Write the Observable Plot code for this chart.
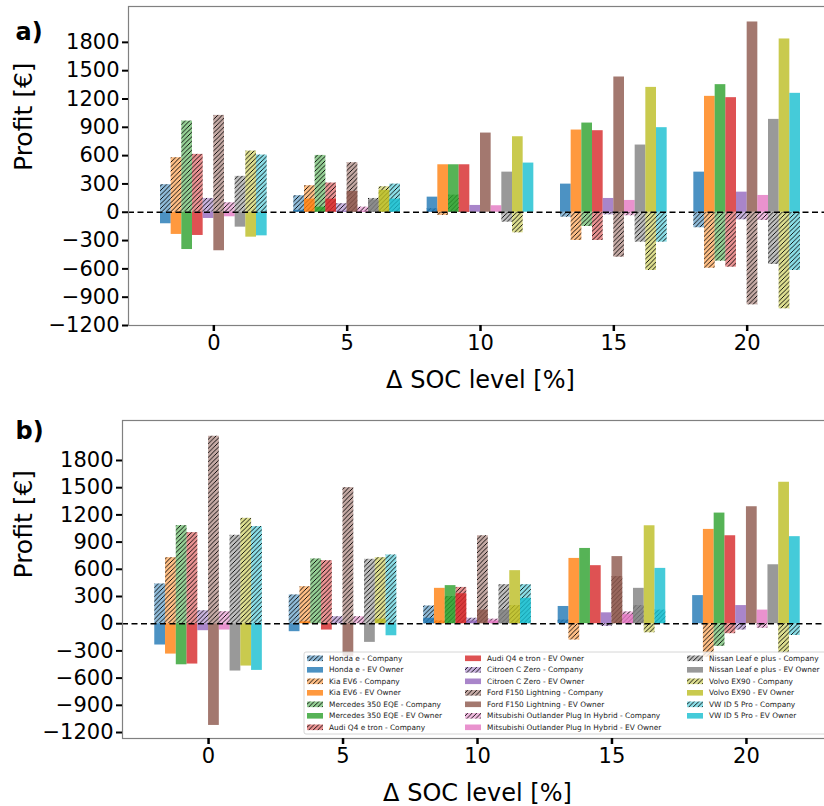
<!DOCTYPE html>
<html><head><meta charset="utf-8">
<script src="https://cdn.jsdelivr.net/npm/d3@7"></script>
<script src="https://cdn.jsdelivr.net/npm/@observablehq/plot@0.6"></script>
<style>
html,body{margin:0;padding:0;background:#fff;width:824px;height:806px;overflow:hidden;}
#chart{width:824px;overflow:hidden;}
#chart svg{display:block;max-width:none !important;}
</style></head><body>
<svg width="0" height="0" style="position:absolute">
<defs>
<pattern id="hatch" patternUnits="userSpaceOnUse" width="4.5" height="4.5">
<path d="M-1,1 l2,-2 M0,4.5 l4.5,-4.5 M3.5,5.5 l2,-2" stroke="#000" stroke-width="0.9"/>
</pattern>
</defs></svg>
<div id="chart"></div>
<script>
const vehicles = ["Honda e","Kia EV6","Mercedes 350 EQE","Audi Q4 e tron","Citroen C Zero","Ford F150 Lightning","Mitsubishi Outlander Plug In Hybrid","Nissan Leaf e plus","Volvo EX90","VW ID 5 Pro"];
const colors = ["#1f77b4","#ff7f0e","#2ca02c","#d62728","#9467bd","#8c564b","#e377c2","#7f7f7f","#bcbd22","#17becf"];
const roles = ["Company","EV Owner"];
const socLevels = [0,5,10,15,20];
const yTicks = [-1200,-900,-600,-300,0,300,600,900,1200,1500,1800];

// Panel a) values per SOC level (rows) and vehicle (columns)
const aCompany = [
  [292,578,966,613,146,1026,100,380,648,606],
  [175,281,602,309,90,525,54,146,270,298],
  [37,-34,181,5,0,0,0,-105,-218,0],
  [-52,-299,-151,-299,-27,-476,-37,-317,-617,-317],
  [-164,-593,-518,-582,-80,-981,-87,-553,-1023,-617]
];
const aOwner = [
  [-122,-235,-395,-246,-66,-408,-48,-158,-264,-250],
  [20,139,54,139,10,220,10,130,231,139],
  [160,503,503,503,72,839,69,425,800,521],
  [298,871,945,864,146,1433,125,712,1323,896],
  [425,1228,1352,1214,213,2016,178,984,1836,1260]
];
// Panel b)
const bCompany = [
  [438,728,1082,1004,143,2067,132,975,1162,1071],
  [317,408,714,695,77,1500,77,710,728,758],
  [195,30,300,400,60,970,50,430,200,430],
  [40,-180,0,0,-30,520,130,200,-100,150],
  [0,-370,-250,-110,-70,0,-50,0,-330,-130]
];
const bOwner = [
  [-235,-335,-453,-445,-77,-1122,-70,-522,-467,-515],
  [-88,20,0,-70,0,-360,0,-206,50,-133],
  [60,390,420,330,30,150,30,150,585,280],
  [190,720,830,640,120,740,100,390,1080,610],
  [310,1040,1220,970,200,1290,150,650,1560,960]
];

function rows(matrix, role){
  const out = [];
  socLevels.forEach((s,k) => vehicles.forEach((v,i) => out.push({soc:s, i, vehicle:v, role, value:matrix[k][i]})));
  return out;
}
const barW = 0.4;
const x1 = d => d.soc + (d.i - 5) * barW;
const x2 = d => d.soc + (d.i - 4) * barW;
const fmt = d3.format("d");

function panel(opts){
  const comp = rows(opts.company, "Company");
  const own = rows(opts.owner, "EV Owner");
  return Plot.plot({
    width: 840, height: opts.height,
    marginLeft: opts.ml, marginRight: 8, marginTop: opts.mt, marginBottom: opts.mb,
    style: {fontFamily: "DejaVu Sans", fontSize: "21px", color: "#000", background: "#fff", maxWidth: "none"},
    x: {domain: [-3.2, 23.2]},
    y: {domain: opts.ydomain},
    color: {type: "identity"},
    marks: [
      Plot.rectY(comp, {x1, x2, y1: 0, y2: "value", fill: d => colors[d.i], fillOpacity: 0.5}),
      Plot.rectY(comp, {x1, x2, y1: 0, y2: "value", fill: "url(#hatch)"}),
      Plot.rectY(own, {x1, x2, y1: 0, y2: "value", fill: d => colors[d.i], fillOpacity: 0.8}),
      Plot.ruleY([0], {stroke: "#000", strokeWidth: 1.5, strokeDasharray: "6,3.5"}),
      Plot.frame({stroke: "#808080", strokeWidth: 1.2}),
      Plot.axisY({ticks: yTicks, tickFormat: fmt, tickSize: 6, tickPadding: 3, strokeWidth: 2, fontSize: 21, label: null}),
      Plot.axisX({ticks: socLevels, tickFormat: fmt, tickSize: 6, tickPadding: 4, strokeWidth: 2.5, fontSize: 21, label: null}),
      Plot.text(["Profit [€]"], {text: d => d, frameAnchor: "left", dx: 23 - opts.ml, dy: opts.ylabDy, rotate: -90, fontSize: 25}),
      Plot.text(["Δ SOC level [%]"], {text: d => d, frameAnchor: "bottom", dy: 62, fontSize: 24}),
      Plot.text([opts.tag], {text: d => d, frameAnchor: "top-left", dx: 15 - opts.ml, dy: opts.tagDy, textAnchor: "start", fontWeight: "bold", fontSize: 24})
    ]
  });
}

const chart = document.getElementById("chart");
const pa = panel({company: aCompany, owner: aOwner, height: 400, ml: 128, mt: 6, mb: 75, ydomain: [-1200, 2180], ylabDy: 5, tag: "a)", tagDy: 16});
const pb = panel({company: bCompany, owner: bOwner, height: 406, ml: 122, mt: 20, mb: 68, ydomain: [-1266, 2241], ylabDy: -1, tag: "b)", tagDy: 1});
chart.appendChild(pa);
chart.appendChild(pb);

// Legend inside panel b
const svgB = d3.select(pb);
const lg = svgB.append("g").attr("transform", "translate(304,252)")
  .style("font-family", "DejaVu Sans").style("font-size", "7.4px").attr("text-anchor", "start");
lg.append("rect").attr("width", 545).attr("height", 82).attr("rx", 2).attr("fill", "#fff").attr("fill-opacity", 0.8).attr("stroke", "#cccccc").attr("stroke-width", 0.8);
const items = [];
vehicles.forEach((v,i) => roles.forEach(r => items.push({label: `${v} - ${r}`, i, role: r})));
const colX = [3, 161, 383];
items.forEach((it, k) => {
  const col = Math.floor(k / 7), row = k % 7;
  const gx = colX[col], gy = 6.3 + row * 11.5;
  const g = lg.append("g").attr("transform", `translate(${gx},${gy})`);
  if (it.role === "Company") {
    g.append("rect").attr("y", -2.8).attr("width", 16).attr("height", 5.6).attr("fill", colors[it.i]).attr("fill-opacity", 0.5);
    g.append("rect").attr("y", -2.8).attr("width", 16).attr("height", 5.6).attr("fill", "url(#hatch)");
  } else {
    g.append("rect").attr("y", -2.8).attr("width", 16).attr("height", 5.6).attr("fill", colors[it.i]).attr("fill-opacity", 0.8);
  }
  g.append("text").attr("x", 22).attr("dy", "0.35em").attr("text-anchor", "start").attr("fill", "#222").text(it.label);
});
</script>
</body></html>
